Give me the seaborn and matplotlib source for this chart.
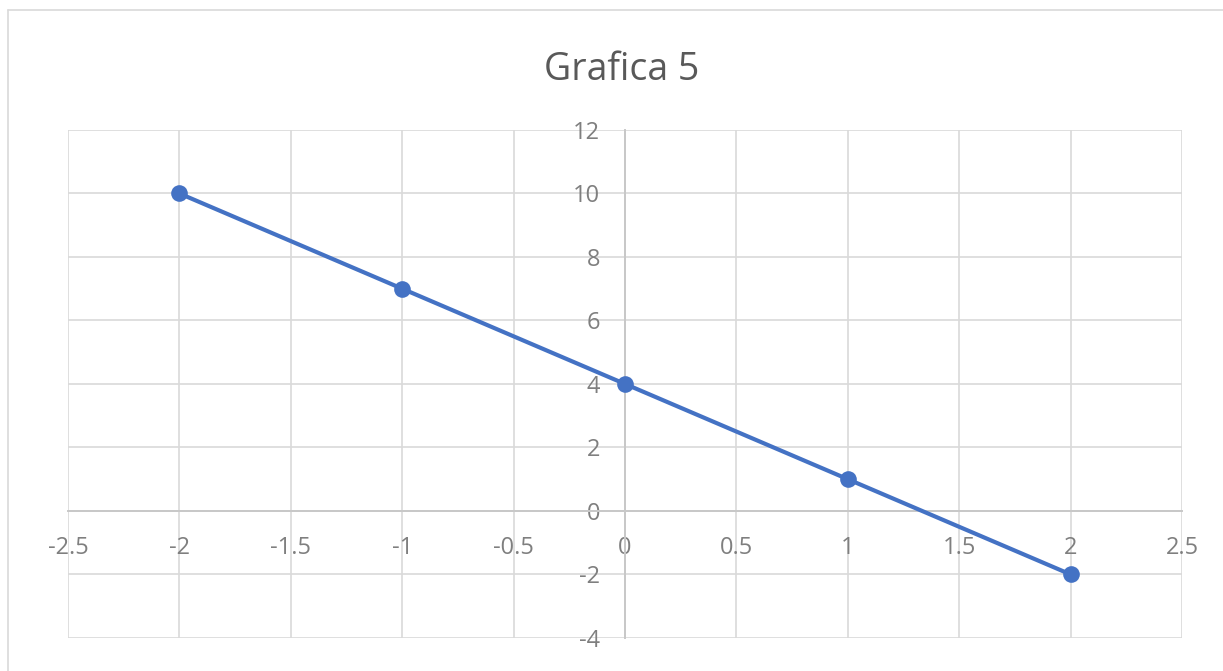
import matplotlib.pyplot as plt
import seaborn as sns
import pandas as pd
from matplotlib.lines import Line2D

# datos de la grafica
x_vals = [-2, -1, 0, 1, 2]
y_vals = [10, 7, 4, 1, -2]
x_ticks = [-2.5, -2, -1.5, -1, -0.5, 0, 0.5, 1, 1.5, 2, 2.5]
y_ticks = [-4, -2, 0, 2, 4, 6, 8, 10, 12]
titulo = "Grafica 5"

df = pd.DataFrame({"x": x_vals, "y": y_vals})

sns.set_style("white")
plt.rcParams['font.family'] = ['Open Sans', 'DejaVu Sans']

fig = plt.figure(figsize=(12.23, 6.71), dpi=100)
ax = fig.add_axes([0.0556, 0.0492, 0.911, 0.7571])

grid_col = "#d9d9d9"
text_col = "#7f7f7f"

sns.lineplot(data=df, x="x", y="y", ax=ax, color="#4472C4", linewidth=3,
             marker="o", markersize=12, markeredgewidth=0, zorder=5)

ax.set_xlim(-2.5, 2.5)
ax.set_ylim(-4, 12)
ax.set_xticks(x_ticks)
ax.set_yticks(y_ticks)
ax.set_xticklabels([f"{v:g}" for v in x_ticks])
ax.set_yticklabels([f"{v:g}" for v in y_ticks])
ax.grid(True, color=grid_col, linewidth=1.2)
ax.set_axisbelow(True)

# ejes cruzando en cero, estilo Excel
ax.spines['left'].set_position(('data', 0))
ax.spines['bottom'].set_position(('data', 0))
ax.spines['right'].set_visible(False)
ax.spines['top'].set_visible(False)
for s in ['left', 'bottom']:
    ax.spines[s].set_color("#c8c8c8")
    ax.spines[s].set_linewidth(1.4)

ax.tick_params(axis='x', length=0, pad=18, labelsize=17, labelcolor=text_col)
ax.tick_params(axis='y', length=0, pad=18, labelsize=17, labelcolor=text_col)
ax.set_xlabel("")
ax.set_ylabel("")

fig.text(0.508, 0.895, titulo, ha="center", va="center", fontsize=27, color="#595959")

# borde del area de grafica (arriba e izquierda)
fig.add_artist(Line2D([0.0065, 1.0], [0.985, 0.985], color="#d9d9d9", linewidth=1.2,
                      transform=fig.transFigure))
fig.add_artist(Line2D([0.0065, 0.0065], [0.0, 0.985], color="#d9d9d9", linewidth=1.2,
                      transform=fig.transFigure))

fig.savefig("out.png", dpi=100)
